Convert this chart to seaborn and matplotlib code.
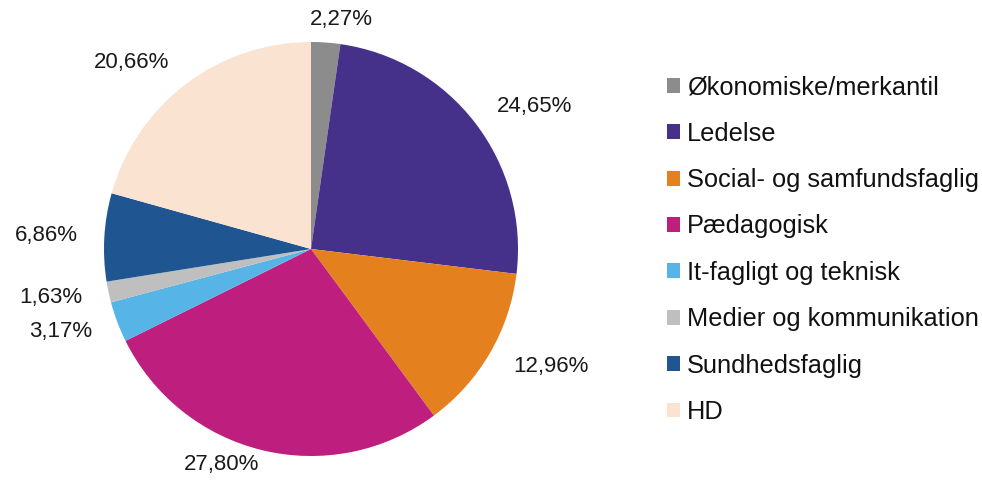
import matplotlib
matplotlib.use("Agg")
import matplotlib.pyplot as plt
import seaborn as sns
from matplotlib.patches import Patch

categories = ["Økonomiske/merkantil", "Ledelse", "Social- og samfundsfaglig",
              "Pædagogisk", "It-fagligt og teknisk", "Medier og kommunikation",
              "Sundhedsfaglig", "HD"]
values = [2.27, 24.65, 12.96, 27.80, 3.17, 1.63, 6.86, 20.66]
colors = ["#8c8c8c", "#46318a", "#e5801e", "#be1e7d", "#57b4e6",
          "#bfbfbf", "#1f5591", "#fbe3d1"]

sns.set_theme(style="white")
plt.rcParams["font.family"] = ["Liberation Sans", "DejaVu Sans"]

fig = plt.figure(figsize=(9.82, 4.82), dpi=100)
ax = fig.add_axes([0.1059, 0.0539, 0.4216, 0.859])

labels = [f"{v:.2f}%".replace(".", ",") for v in values]
wedges, texts = ax.pie(values, colors=colors, startangle=90, counterclock=False,
                       labels=labels, labeldistance=1.13,
                       textprops=dict(fontsize=16, color="#1a1a1a"),
                       wedgeprops=dict(linewidth=0))
# fine-tune radial distance of a few labels
x, y = texts[0].get_position()
texts[0].set_position((x * 1.11 / 1.13 + 0.07, y * 1.11 / 1.13))
texts[0].set_ha("center")
x, y = texts[3].get_position()
texts[3].set_position((x * 1.07 / 1.13, y * 1.07 / 1.13))

ax.set_xlim(-1, 1)
ax.set_ylim(-1, 1)
ax.set_aspect("equal")
ax.axis("off")

handles = [Patch(facecolor=c, edgecolor="none") for c in colors]
fig.legend(handles, categories, loc="center left",
           bbox_to_anchor=(0.679, 0.482), frameon=False,
           fontsize=18.3, handlelength=0.52, handleheight=0.52,
           handletextpad=0.28, labelspacing=0.88, borderpad=0, borderaxespad=0,
           labelcolor="#111111")

fig.savefig("out.png", dpi=100, facecolor="white")
